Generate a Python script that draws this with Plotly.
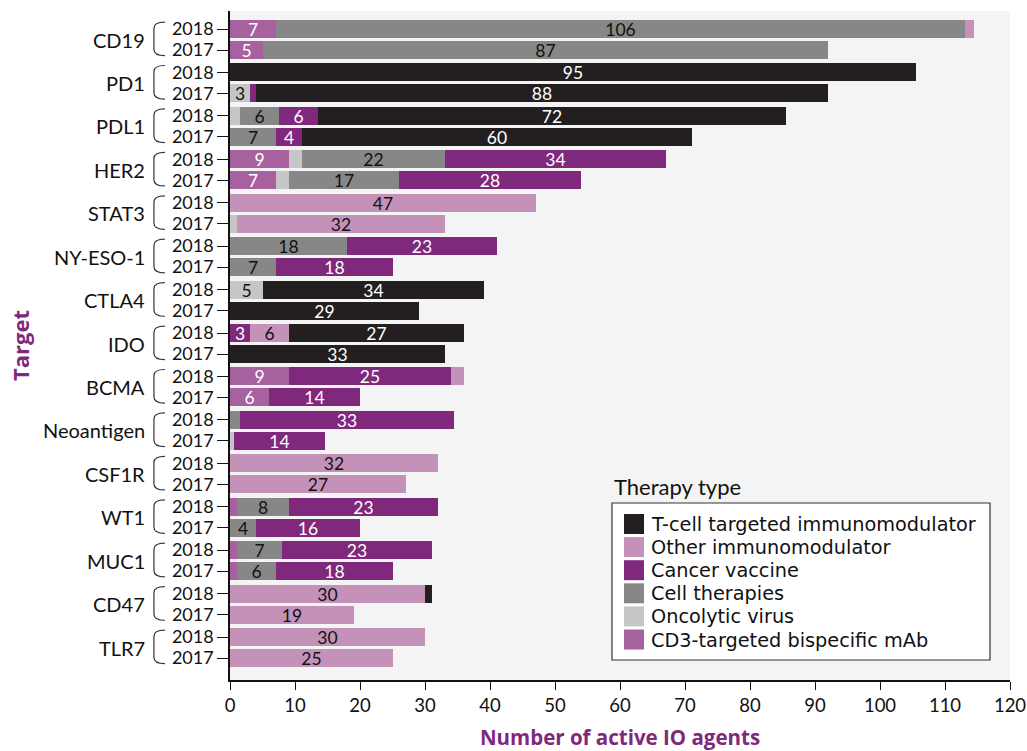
import plotly.graph_objects as go

targets = ["CD19", "PD1", "PDL1", "HER2", "STAT3", "NY-ESO-1", "CTLA4", "IDO",
           "BCMA", "Neoantigen", "CSF1R", "WT1", "MUC1", "CD47", "TLR7"]
years = ["2018", "2017"]

# values per row: target order above, 2018 then 2017 for each target
cd3_bispecific = [7, 5, 0, 0, 0, 0, 9, 7, 0, 0, 0, 0, 0, 0, 0, 0,
                  9, 6, 0, 0, 0, 0, 1, 0, 1, 1, 0, 0, 0, 0]
oncolytic_virus = [0, 0, 0, 3, 1.5, 0, 2, 2, 0, 1, 0, 0, 5, 0, 0, 0,
                   0, 0, 0, 0.6, 0, 0, 0, 0, 0, 0, 0, 0, 0, 0]
cell_therapies = [106, 87, 0, 0, 6, 7, 22, 17, 0, 0, 18, 7, 0, 0, 0, 0,
                  0, 0, 1.5, 0, 0, 0, 8, 4, 7, 6, 0, 0, 0, 0]
cancer_vaccine = [0, 0, 0, 1, 6, 4, 34, 28, 0, 0, 23, 18, 0, 0, 3, 0,
                  25, 14, 33, 14, 0, 0, 23, 16, 23, 18, 0, 0, 0, 0]
other_immunomod = [1.5, 0, 0, 0, 0, 0, 0, 0, 47, 32, 0, 0, 0, 0, 6, 0,
                   2, 0, 0, 0, 32, 27, 0, 0, 0, 0, 30, 19, 30, 25]
tcell_immunomod = [0, 0, 105.5, 88, 72, 60, 0, 0, 0, 0, 0, 0, 34, 29, 27, 33,
                   0, 0, 0, 0, 0, 0, 0, 0, 0, 0, 1, 0, 0, 0]
# printed label that differs from the drawn bar length in the source (PD1 2018)
tcell_label_override = {2: "95"}

series = [
    ("CD3-targeted bispecific mAb", cd3_bispecific, "#a8619f", "white", {}),
    ("Oncolytic virus", oncolytic_virus, "#c6c6c6", "#111111", {}),
    ("Cell therapies", cell_therapies, "#878787", "#111111", {}),
    ("Cancer vaccine", cancer_vaccine, "#80287c", "white", {}),
    ("Other immunomodulator", other_immunomod, "#c492b9", "#111111", {}),
    ("T-cell targeted immunomodulator", tcell_immunomod, "#231f20", "white", tcell_label_override),
]
legend_order = list(reversed(series))

FONT = "Lato"
TITLE_FONT = "Open Sans"
LEGEND_FONT = "DejaVu Sans"
WITHIN = 0.484  # gap between 2018 and 2017 row, in group units

# plot-area pixel frame (for placing the hand-drawn legend box)
PL, PR, PT, PB = 230, 1010, 11, 680


def px_x(px):
    return (px - PL) / (PR - PL)


def px_y(py):
    return (PB - py) / (PB - PT)


ypos = []
ticktext = []
for g, t in enumerate(targets):
    for k, yr in enumerate(years):
        ypos.append(g + WITHIN * k)
        ticktext.append(yr)

fig = go.Figure()
for name, vals, color, tcolor, overrides in series:
    labels = []
    for i, v in enumerate(vals):
        if i in overrides:
            labels.append(overrides[i])
        elif v >= 2.5:
            labels.append(str(int(round(v))))
        else:
            labels.append("")
    fig.add_trace(go.Bar(
        name=name, x=vals, y=ypos, orientation="h", width=0.415,
        marker=dict(color=color, line=dict(width=0)),
        text=labels, textposition="inside", insidetextanchor="middle",
        textangle=0, constraintext="none",
        textfont=dict(family=FONT, size=17.5, color=tcolor),
        hoverinfo="x+name", showlegend=False,
    ))

annotations = []
shapes = []
for g, t in enumerate(targets):
    annotations.append(dict(
        x=-0.106, xref="paper", y=g + WITHIN / 2, yref="y", text=t,
        showarrow=False, xanchor="right", yanchor="middle",
        font=dict(family=FONT, size=20, color="#111111")))
    top = g - 0.16
    bot = g + WITHIN + 0.13
    x0, x1 = -0.0975, -0.0835
    r = 0.14
    shapes.append(dict(
        type="path", xref="paper", yref="y",
        path=f"M {x1},{top} Q {x0},{top} {x0},{top + r} L {x0},{bot - r} Q {x0},{bot} {x1},{bot}",
        line=dict(color="#333333", width=1.2)))

# legend (drawn as a box with swatches and text)
ROW = 23.1
shapes.append(dict(type="rect", xref="paper", yref="paper",
                   x0=px_x(612), x1=px_x(990), y0=px_y(660), y1=px_y(503),
                   fillcolor="white", line=dict(color="#333333", width=1.2)))
for i, (name, vals, color, tcolor, overrides) in enumerate(legend_order):
    cy = 524 + ROW * i
    shapes.append(dict(type="rect", xref="paper", yref="paper",
                       x0=px_x(624), x1=px_x(644), y0=px_y(cy + 10), y1=px_y(cy - 10),
                       fillcolor=color, line=dict(width=0)))
    annotations.append(dict(
        x=px_x(649), xref="paper", y=px_y(cy + 0.5), yref="paper", text=name,
        showarrow=False, xanchor="left", yanchor="middle",
        font=dict(family=LEGEND_FONT, size=19.3, color="#111111")))
annotations.append(dict(
    x=px_x(612), xref="paper", y=px_y(502), yref="paper", text="Therapy type",
    showarrow=False, xanchor="left", yanchor="bottom",
    font=dict(family=FONT, size=22, color="#111111")))

fig.update_layout(
    width=1027, height=751,
    margin=dict(l=PL, r=1027 - PR, t=PT, b=751 - PB),
    paper_bgcolor="white", plot_bgcolor="#f4f4f4",
    barmode="stack", bargap=0, showlegend=False,
    font=dict(family=FONT, size=17, color="#111111"),
    xaxis=dict(range=[0, 120], dtick=10, ticks="outside", ticklen=8,
               tickcolor="#111111", showline=True, linecolor="#111111",
               linewidth=1.5, showgrid=False, zeroline=False, automargin=False,
               tickfont=dict(family=FONT, size=18.5),
               title=dict(text="<b>Number of active IO agents</b>", standoff=22,
                          font=dict(family=TITLE_FONT, size=20.5, color="#80287c"))),
    yaxis=dict(range=[14.99, -0.415], tickvals=ypos, ticktext=ticktext,
               ticks="outside", ticklen=11, tickcolor="#111111",
               showline=True, linecolor="#111111", linewidth=1.5,
               showgrid=False, zeroline=False, automargin=False,
               tickfont=dict(family=FONT, size=18),
               title=dict(text="<b>Target</b>", standoff=136,
                          font=dict(family=TITLE_FONT, size=22, color="#80287c"))),
    annotations=annotations, shapes=shapes,
)

fig.write_html("out.html")
